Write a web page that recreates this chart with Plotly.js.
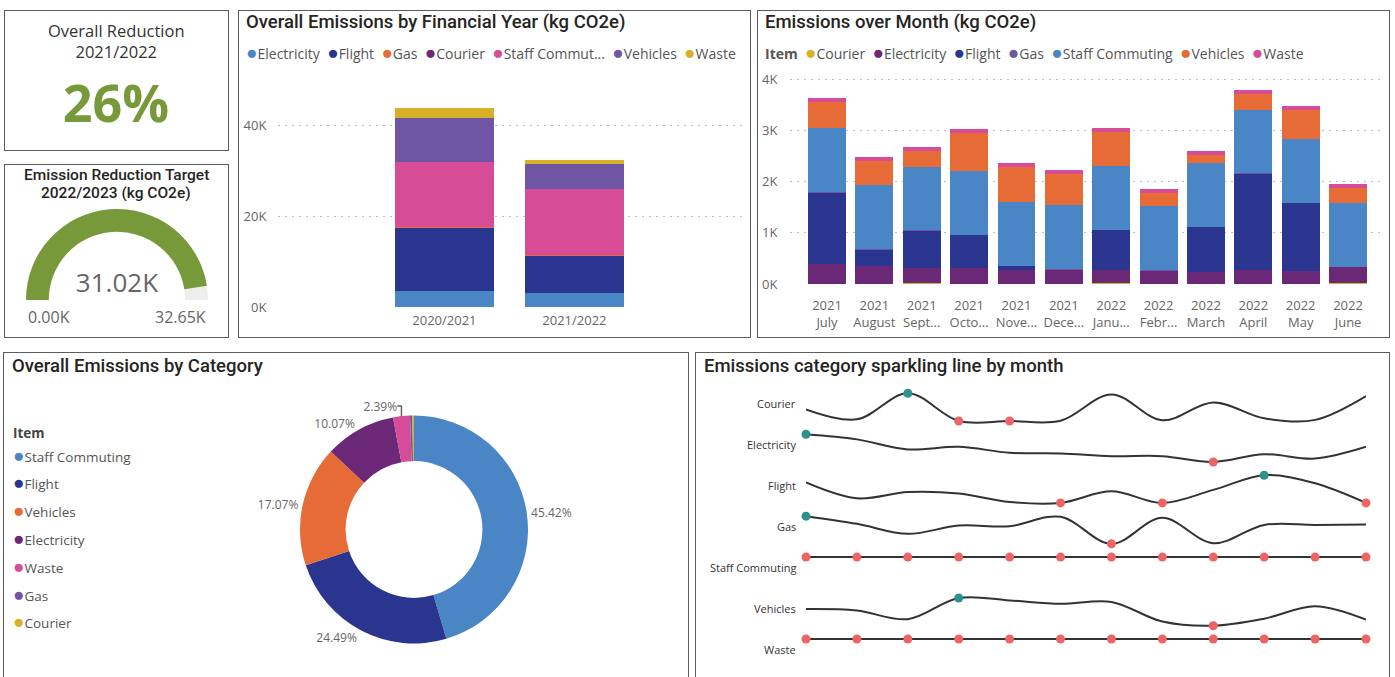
<!DOCTYPE html>
<html><head><meta charset="utf-8">
<script src="https://cdn.plot.ly/plotly-3.0.1.min.js"></script>
<style>
html,body{margin:0;padding:0;background:#fff;width:1395px;height:677px;overflow:hidden;position:relative;}
.p{position:absolute;}
.b{position:absolute;border:1.5px solid #5c5c5c;box-sizing:border-box;pointer-events:none;z-index:5;}
</style></head><body>
<div id="card1" class="p" style="left:4px;top:10px;width:224px;height:140px"></div>
<div id="card2" class="p" style="left:4px;top:164px;width:224px;height:174px"></div>
<div id="fy" class="p" style="left:238px;top:10px;width:512px;height:327px"></div>
<div id="monthly" class="p" style="left:757px;top:10px;width:633px;height:327px"></div>
<div id="donut" class="p" style="left:3px;top:352px;width:685px;height:325px"></div>
<div id="spark" class="p" style="left:695px;top:352px;width:695px;height:325px"></div>
<div class="b" style="left:4px;top:10px;width:225px;height:141px"></div>
<div class="b" style="left:4px;top:164px;width:225px;height:174px"></div>
<div class="b" style="left:238px;top:10px;width:513px;height:328px"></div>
<div class="b" style="left:757px;top:10px;width:633px;height:328px"></div>
<div class="b" style="left:3px;top:352px;width:686px;height:340px"></div>
<div class="b" style="left:695px;top:352px;width:695px;height:340px"></div>
<script>
// ---------------- DATA ----------------
const overallReduction = 26;          // % reduction 2021/2022
const targetCurrent = 31.02;          // K kg CO2e
const targetMax = 32.65;              // K kg CO2e

const fyYears = ['2020/2021', '2021/2022'];
const fyCategories = ['Electricity', 'Flight', 'Gas', 'Courier', 'Staff Commuting', 'Vehicles', 'Waste'];
const fyElectricity = [3.6, 3.1];
const fyFlight = [13.8, 8.2];
const fyGas = [0.15, 0.12];
const fyCourier = [0.08, 0.07];
const fyStaffCommuting = [14.4, 14.5];
const fyVehicles = [9.5, 5.6];
const fyWaste = [2.2, 0.8];
const fyColors = ['#4A86C5', '#29358F', '#E66B37', '#6B2876', '#D74C97', '#6E56A4', '#D9B02A'];

const monthYears = ['2021', '2021', '2021', '2021', '2021', '2021', '2022', '2022', '2022', '2022', '2022', '2022'];
const monthNames = ['July', 'August', 'Sept...', 'Octo...', 'Nove...', 'Dece...', 'Janu...', 'Febr...', 'March', 'April', 'May', 'June'];
const itemCategories = ['Courier', 'Electricity', 'Flight', 'Gas', 'Staff Commuting', 'Vehicles', 'Waste'];
const courierMonthly = [0.0062, 0.0026, 0.012, 0.002, 0.002, 0.0021, 0.0116, 0.00225, 0.0087, 0.003, 0.0024, 0.011];
const electricityMonthly = [0.385, 0.356, 0.299, 0.314, 0.280, 0.276, 0.261, 0.261, 0.228, 0.272, 0.247, 0.314];
const flightMonthly = [1.387, 0.313, 0.73, 0.632, 0.06, 0, 0.79, 0, 0.88, 1.876, 1.33, 0];
const gasMonthly = [0.015, 0.0114, 0.0067, 0.0106, 0.0103, 0.0147, 0.002, 0.0142, 0.0023, 0.0109, 0.0109, 0.0111];
const staffCommutingMonthly = [1.245, 1.245, 1.245, 1.245, 1.245, 1.245, 1.245, 1.245, 1.245, 1.245, 1.245, 1.245];
const vehiclesMonthly = [0.51, 0.48, 0.30, 0.74, 0.69, 0.62, 0.66, 0.25, 0.163, 0.31, 0.57, 0.29];
const wasteMonthly = [0.076, 0.076, 0.076, 0.076, 0.076, 0.076, 0.076, 0.076, 0.076, 0.076, 0.076, 0.076];
const itemColors = ['#D9B02A', '#6B2876', '#29358F', '#6E56A4', '#4A86C5', '#E66B37', '#D74C97'];

const donutLabels = ['Staff Commuting', 'Flight', 'Vehicles', 'Electricity', 'Waste', 'Gas', 'Courier'];
const donutShare = [45.42, 24.49, 17.07, 10.07, 2.39, 0.33, 0.23];

// ---------------- STYLE ----------------
const GREEN = '#77993A', TEAL = '#2E9090', RED = '#EE6363';
const BODY = 'Open Sans, sans-serif', HEAD = 'Roboto, sans-serif';
const TITLE_COLOR = '#252423', GRAY = '#666';
const CFG = {staticPlot: true, displayModeBar: false};
const colorOf = name => itemColors[itemCategories.indexOf(name)];
const bullet = c => '<span style="color:' + c + ';font-size:19px">\u25CF</span>';
// converts div pixel coords to paper coords for a given margin box
function pos(W, H, m, x, y) {
  return {x: (x - m.l) / (W - m.l - m.r), y: (H - m.b - y) / (H - m.t - m.b)};
}
function title(text, W, H, m, x, y) {
  const p = pos(W, H, m, x, y);
  return {xref: 'paper', yref: 'paper', x: p.x, y: p.y, xanchor: 'left', yanchor: 'middle',
    showarrow: false, text: text, font: {family: HEAD, size: 18.5, color: TITLE_COLOR, weight: 500}};
}
const M0 = {l: 0, r: 0, t: 0, b: 0};

// ---------------- CARD 1 ----------------
Plotly.newPlot('card1', [{
  type: 'indicator', mode: 'number', value: overallReduction,
  number: {suffix: '%', valueformat: '.0f', font: {size: 52, color: GREEN, family: BODY, weight: 700}},
  domain: {x: [0, 1], y: [0.15, 0.54]}
}], {
  width: 224, height: 140, margin: M0, font: {family: BODY},
  annotations: [{xref: 'paper', yref: 'paper', x: 0.5, y: 1 - 30.5 / 140, xanchor: 'center', yanchor: 'middle',
    showarrow: false, text: 'Overall Reduction<br>2021/2022', font: {size: 16.5, color: '#333'}}]
}, CFG);

// ---------------- CARD 2 (gauge) ----------------
Plotly.newPlot('card2', [{
  type: 'indicator', mode: 'gauge+number', value: targetCurrent,
  number: {suffix: 'K', valueformat: '.2f', font: {size: 26, color: GRAY, family: BODY}},
  gauge: {shape: 'angular', axis: {range: [0, targetMax], visible: false},
    bar: {color: GREEN, thickness: 1}, bgcolor: '#EEEEEE', borderwidth: 0},
  domain: {x: [22 / 224, 204 / 224], y: [38 / 174, 129 / 174]}
}], {
  width: 224, height: 174, margin: M0, font: {family: BODY},
  annotations: [
    {xref: 'paper', yref: 'paper', x: 0.5, y: 1 - 11 / 174, xanchor: 'center', yanchor: 'middle', showarrow: false,
      text: 'Emission Reduction Target', font: {family: HEAD, size: 15.5, color: TITLE_COLOR, weight: 500}},
    {xref: 'paper', yref: 'paper', x: 0.5, y: 1 - 29.3 / 174, xanchor: 'center', yanchor: 'middle', showarrow: false,
      text: '2022/2023 (kg CO2e)', font: {family: HEAD, size: 15.5, color: TITLE_COLOR, weight: 500}},
    {xref: 'paper', yref: 'paper', x: 22 / 224, y: 1 - 153 / 174, xanchor: 'left', yanchor: 'middle', showarrow: false,
      text: (0).toFixed(2) + 'K', font: {size: 16, color: GRAY}},
    {xref: 'paper', yref: 'paper', x: 204 / 224, y: 1 - 153 / 174, xanchor: 'right', yanchor: 'middle', showarrow: false,
      text: targetMax.toFixed(2) + 'K', font: {size: 16, color: GRAY}}
  ]
}, CFG);

// ---------------- FY STACKED BARS ----------------
(function () {
  const W = 512, H = 327, m = {l: 40, r: 7, t: 79, b: 30};
  const series = [fyElectricity, fyFlight, fyGas, fyCourier, fyStaffCommuting, fyVehicles, fyWaste];
  const traces = fyCategories.map((c, i) => ({
    type: 'bar', name: c, x: fyYears, y: series[i], marker: {color: fyColors[i]}, hoverinfo: 'skip'
  }));
  const shortName = n => n.length > 13 ? n.slice(0, 12) + '...' : n;
  const legend = fyCategories.map((c, i) => bullet(fyColors[i]) + shortName(c)).join('\u00a0\u00a0');
  const lp = pos(W, H, m, 6, 42);
  Plotly.newPlot('fy', traces, {
    width: W, height: H, margin: m, barmode: 'stack', bargap: 0.236, showlegend: false,
    font: {family: BODY},
    xaxis: {type: 'category', range: [-1.28, 2.297], showgrid: false, zeroline: false, showline: false,
      ticks: 'outside', ticklen: 1, tickcolor: 'rgba(0,0,0,0)', tickfont: {size: 13, color: GRAY}},
    yaxis: {range: [0, 48], tickmode: 'linear', tick0: 0, dtick: 20, ticksuffix: 'K', showgrid: true, gridcolor: '#BDBDBD',
      griddash: '1.5px,5.5px', zeroline: false, showline: false, ticks: 'outside', ticklen: 8,
      tickcolor: 'rgba(0,0,0,0)', tickfont: {size: 13, color: GRAY}},
    annotations: [
      title('Overall Emissions by Financial Year (kg CO2e)', W, H, m, 6, 12),
      {xref: 'paper', yref: 'paper', x: lp.x, y: lp.y, xanchor: 'left', yanchor: 'middle', showarrow: false,
        text: legend, font: {size: 14, color: '#555'}}
    ]
  }, CFG);
})();

// ---------------- MONTHLY STACKED BARS ----------------
(function () {
  const W = 633, H = 327, m = {l: 33, r: 5, t: 59, b: 53};
  const series = [courierMonthly, electricityMonthly, flightMonthly, gasMonthly, staffCommutingMonthly, vehiclesMonthly, wasteMonthly];
  const xs = monthYears.map((y, i) => y + '<br>' + monthNames[i]);
  const traces = itemCategories.map((c, i) => ({
    type: 'bar', name: c, x: xs, y: series[i], marker: {color: itemColors[i]}, hoverinfo: 'skip'
  }));
  const legend = '<b>Item</b>\u00a0\u00a0' + itemCategories.map((c, i) => bullet(itemColors[i]) + c).join('\u00a0\u00a0');
  const lp = pos(W, H, m, 6, 42);
  Plotly.newPlot('monthly', traces, {
    width: W, height: H, margin: m, barmode: 'stack', bargap: 0.2, showlegend: false,
    font: {family: BODY},
    xaxis: {type: 'category', range: [-0.781, 11.78], showgrid: false, zeroline: false, showline: false,
      ticks: 'outside', ticklen: 9, tickcolor: 'rgba(0,0,0,0)', tickfont: {size: 13, color: GRAY}},
    yaxis: {range: [0, 4.2], tickmode: 'linear', tick0: 0, dtick: 1, ticksuffix: 'K', showgrid: true, gridcolor: '#BDBDBD',
      griddash: '1.5px,5.5px', zeroline: false, showline: false, ticks: 'outside', ticklen: 9,
      tickcolor: 'rgba(0,0,0,0)', tickfont: {size: 13, color: GRAY}},
    annotations: [
      title('Emissions over Month (kg CO2e)', W, H, m, 6, 12),
      {xref: 'paper', yref: 'paper', x: lp.x, y: lp.y, xanchor: 'left', yanchor: 'middle', showarrow: false,
        text: legend, font: {size: 14, color: '#555'}}
    ]
  }, CFG);
})();

// ---------------- DONUT ----------------
(function () {
  const W = 685, H = 325;
  const cx = 411, cy = 177.5, r = 114;
  const ann = [title('Overall Emissions by Category', W, H, M0, 7, 14),
    {xref: 'paper', yref: 'paper', x: 8 / W, y: 1 - 81.3 / H, xanchor: 'left', yanchor: 'middle', showarrow: false,
      text: '<b>Item</b>', font: {size: 13.5, color: '#444'}}];
  donutLabels.forEach((l, i) => ann.push({
    xref: 'paper', yref: 'paper', x: 8 / W, y: 1 - (102.5 + 27.8 * i) / H, xanchor: 'left', yanchor: 'middle',
    showarrow: false, text: bullet(colorOf(l)) + l, font: {size: 13.5, color: '#555'}
  }));
  Plotly.newPlot('donut', [{
    type: 'pie', labels: donutLabels, values: donutShare, hole: 0.6, sort: false, direction: 'clockwise', rotation: 0,
    marker: {colors: donutLabels.map(colorOf), line: {width: 0}},
    textposition: 'outside', texttemplate: donutShare.map(v => v >= 1 ? '%{percent:.2%}' : ''),
    outsidetextfont: {size: 12, color: GRAY}, showlegend: false, hoverinfo: 'skip',
    domain: {x: [(cx - r) / W, (cx + r) / W], y: [1 - (cy + r) / H, 1 - (cy - r) / H]}
  }], {width: W, height: H, margin: M0, font: {family: BODY}, annotations: ann}, CFG);
})();

// ---------------- SPARKLINES ----------------
(function () {
  const W = 695, H = 325;
  const series = [courierMonthly, electricityMonthly, flightMonthly, gasMonthly, staffCommutingMonthly, vehiclesMonthly, wasteMonthly];
  const traces = [];
  const layout = {width: W, height: H, margin: M0, showlegend: false, font: {family: BODY},
    xaxis: {domain: [111 / W, 671 / W], range: [0, 11], visible: false, fixedrange: true},
    annotations: [title('Emissions category sparkling line by month', W, H, M0, 7, 14)]};
  const pad = 0.2;
  itemCategories.forEach((cat, k) => {
    const vals = series[k];
    const xs = vals.map((_, i) => i);
    const yk = k === 0 ? 'y' : 'y' + (k + 1);
    const ak = k === 0 ? 'yaxis' : 'yaxis' + (k + 1);
    const mn = Math.min(...vals), mx = Math.max(...vals);
    const flat = mx === mn;
    const d = flat ? 1 : mx - mn;
    const top = 41.3 + 40.95 * k, bot = 69 + 40.95 * k, pp = pad * (bot - top);
    layout[ak] = {domain: [1 - (bot + pp) / H, 1 - (top - pp) / H], anchor: 'x', visible: false, fixedrange: true,
      range: flat ? [mx - (1 + pad) * d, mx + pad * d] : [mn - pad * d, mx + pad * d]};
    traces.push({type: 'scatter', mode: 'lines', x: xs, y: vals, xaxis: 'x', yaxis: yk,
      line: {color: '#333', width: 2, shape: 'spline', smoothing: 1}, hoverinfo: 'skip'});
    const maxI = flat ? [] : xs.filter(i => vals[i] === mx);
    const minI = xs.filter(i => vals[i] === mn);
    traces.push({type: 'scatter', mode: 'markers', x: maxI, y: maxI.map(i => vals[i]), xaxis: 'x', yaxis: yk,
      marker: {color: TEAL, size: 9}, cliponaxis: false, hoverinfo: 'skip'});
    traces.push({type: 'scatter', mode: 'markers', x: minI, y: minI.map(i => vals[i]), xaxis: 'x', yaxis: yk,
      marker: {color: RED, size: 9}, cliponaxis: false, hoverinfo: 'skip'});
    layout.annotations.push({xref: 'paper', yref: 'paper', x: 103.4 / W, y: 1 - (51.3 + 40.95 * k) / H,
      xanchor: 'right', yanchor: 'middle', showarrow: false, text: cat, font: {size: 11, color: '#333'}});
  });
  Plotly.newPlot('spark', traces, layout, CFG);
})();
</script>
</body></html>
